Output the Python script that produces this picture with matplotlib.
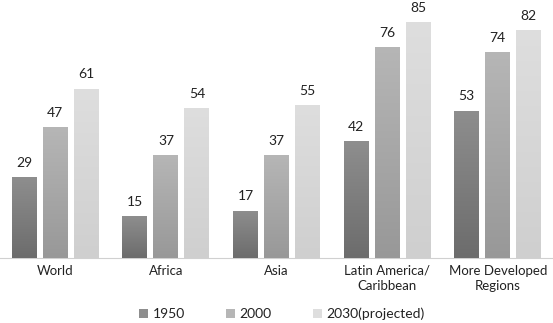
import numpy as np
import matplotlib
matplotlib.use('Agg')
import matplotlib.pyplot as plt
from matplotlib.colors import LinearSegmentedColormap

# data
categories = ['World', 'Africa', 'Asia', 'Latin America/\nCaribbean', 'More Developed\nRegions']
series_names = ['1950', '2000', '2030(projected)']
v1950 = [29, 15, 17, 42, 53]
v2000 = [47, 37, 37, 76, 74]
v2030 = [61, 54, 55, 85, 82]

# (bottom colour, top colour) for the gradient fill
shades = [('#6c6c6c', '#8e8e8e'), ('#989898', '#b6b6b6'), ('#cfcfcf', '#dedede')]

plt.rcParams['font.family'] = ['Lato', 'DejaVu Sans']

fig = plt.figure(figsize=(5.53, 3.23), dpi=100)
ax = fig.add_axes([0.0, 0.2012, 1.0, 0.7740])

x = np.arange(len(categories))
width = 0.226
step = 0.28
series = [v1950, v2000, v2030]

for i, vals in enumerate(series):
    pos = x + (i - 1) * step
    bars = ax.bar(pos, vals, width, color=shades[i][1], label=series_names[i], zorder=2)
    cmap = LinearSegmentedColormap.from_list('g%d' % i, [shades[i][0], shades[i][1]])
    grad = np.linspace(0, 1, 256).reshape(-1, 1)
    for b, v in zip(bars, vals):
        im = ax.imshow(grad, cmap=cmap, aspect='auto', origin='lower',
                       extent=[b.get_x(), b.get_x() + b.get_width(), 0, v], zorder=3)
        im.set_clip_path(b)
        ax.text(b.get_x() + b.get_width() / 2, v + 3, str(v), ha='center', va='bottom',
                fontsize=10, color='#222222')

ax.set_xlim(-0.5, len(categories) - 0.5)
ax.set_ylim(0, 90)
ax.set_yticks([])
ax.set_xticks(x)
ax.set_xticklabels(categories, fontsize=9.5, color='#222222', linespacing=1.35)
ax.tick_params(axis='x', length=0, pad=5)
for s in ['top', 'right', 'left']:
    ax.spines[s].set_visible(False)
ax.spines['bottom'].set_color('#d0d0d0')

leg = fig.legend(loc='lower center', bbox_to_anchor=(0.51, -0.03), ncol=3, frameon=False,
                 fontsize=10, handlelength=0.6, handleheight=0.6, handletextpad=0.35,
                 columnspacing=3.0)
for t in leg.get_texts():
    t.set_color('#222222')

fig.savefig('out.png', dpi=100)
